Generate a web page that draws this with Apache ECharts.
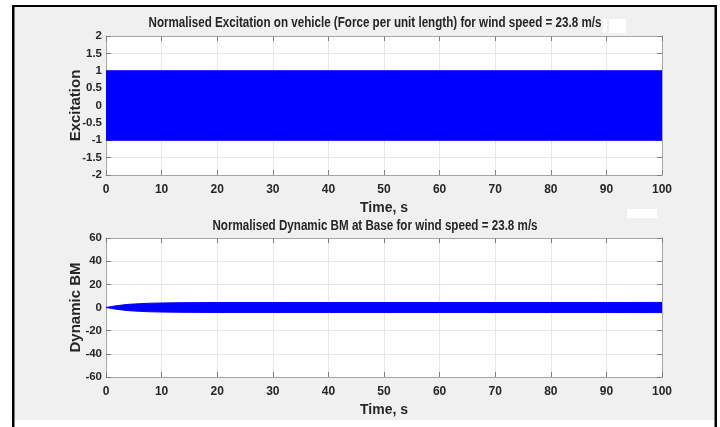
<!DOCTYPE html>
<html>
<head>
<meta charset="utf-8">
<script src="https://cdn.jsdelivr.net/npm/echarts@6/dist/echarts.min.js"></script>
<style>
  html, body { margin: 0; padding: 0; background: #ffffff; }
  #chart { width: 720px; height: 427px; }
</style>
</head>
<body>
<div id="chart"></div>
<script>
// Time axis ticks (s)
const timeTicks = [0, 10, 20, 30, 40, 50, 60, 70, 80, 90, 100];
const excitationTicks = [-2, -1.5, -1, -0.5, 0, 0.5, 1, 1.5, 2];
const bmTicks = [-60, -40, -20, 0, 20, 40, 60];

// Excitation: fast oscillation, drawn as its upper / lower envelope
const excTime  = [0, 100];
const excUpper = [1, 1];
const excLower = [-1, -1];

// Dynamic bending moment: envelope of the oscillating response
const bmTime  = [0, 1, 2, 3, 4, 5, 6, 8, 10, 13, 16, 20, 30, 40, 50, 60, 70, 80, 90, 100];
const bmUpper = [0, 0.9, 1.6, 2.2, 2.7, 3.0, 3.3, 3.7, 3.9, 4.1, 4.2, 4.3, 4.3, 4.3, 4.3, 4.3, 4.3, 4.3, 4.3, 4.4];
const bmLower = [0, -0.9, -1.6, -2.2, -2.7, -3.0, -3.3, -3.7, -3.9, -4.1, -4.2, -4.3, -4.3, -4.3, -4.3, -4.3, -4.3, -4.3, -4.3, -4.4];

const title1 = 'Normalised Excitation on vehicle (Force per unit length) for wind speed = 23.8 m/s';
const title2 = 'Normalised Dynamic BM at Base for wind speed = 23.8 m/s';

const FONT = "'Liberation Sans', Arial, sans-serif";
const BLUE = '#0000ff';
const BOX = '#a6a6a6';
const GRIDLINE = '#e6e6e6';
const TXT = '#262626';

function xAxisFor(gridIndex, showLabels) {
  return {
    type: 'value', gridIndex: gridIndex,
    position: showLabels ? 'bottom' : 'top',
    min: timeTicks[0], max: timeTicks[timeTicks.length - 1], interval: 10,
    name: showLabels ? 'Time, s' : '',
    nameLocation: 'middle', nameGap: 26, nameMoveOverlap: false,
    nameTextStyle: { fontFamily: FONT, fontWeight: 'bold', fontSize: 14, color: TXT },
    axisLine: { show: true, onZero: false, lineStyle: { color: BOX, width: 1 } },
    axisTick: { show: true, inside: true, length: 5, lineStyle: { color: '#7f7f7f' } },
    axisLabel: { show: showLabels, margin: 9, fontFamily: FONT, fontWeight: 'bold', fontSize: 12, color: TXT },
    splitLine: { show: showLabels, lineStyle: { color: GRIDLINE, width: 1 } }
  };
}

function yAxisFor(gridIndex, ticks, name, showLabels) {
  return {
    type: 'value', gridIndex: gridIndex,
    position: showLabels ? 'left' : 'right',
    min: ticks[0], max: ticks[ticks.length - 1], interval: ticks[1] - ticks[0],
    name: showLabels ? name : '',
    nameLocation: 'middle', nameGap: 23, nameMoveOverlap: false,
    nameTextStyle: { fontFamily: FONT, fontWeight: 'bold', fontSize: 15, color: TXT },
    axisLine: { show: true, onZero: false, lineStyle: { color: BOX, width: 1 } },
    axisTick: { show: true, inside: true, length: 5, lineStyle: { color: '#7f7f7f' } },
    axisLabel: { show: showLabels, margin: 4, fontFamily: FONT, fontWeight: 'bold', fontSize: 11.5, color: TXT },
    splitLine: { show: showLabels, lineStyle: { color: GRIDLINE, width: 1 } }
  };
}

// Filled envelope: one polygon running along the upper edge and back along the lower edge
function band(name, xi, yi, ts, upper, lower) {
  return {
    name: name, type: 'custom', xAxisIndex: xi, yAxisIndex: yi,
    data: ts.map((t, i) => [t, upper[i], lower[i]]),
    encode: { x: 0, y: [1, 2] },
    clip: true, silent: true, animation: false,
    renderItem: function (params, api) {
      if (params.dataIndex !== 0) return null;
      const pts = [];
      for (let i = 0; i < ts.length; i++) pts.push(api.coord([ts[i], upper[i]]));
      for (let i = ts.length - 1; i >= 0; i--) pts.push(api.coord([ts[i], lower[i]]));
      return {
        type: 'polygon',
        shape: { points: pts },
        style: { fill: BLUE, stroke: BLUE, lineWidth: 1 }
      };
    }
  };
}

const chart = echarts.init(document.getElementById('chart'), null, { renderer: 'canvas' });

chart.setOption({
  animation: false,
  backgroundColor: '#ffffff',
  graphic: [
    { type: 'rect', z: -10, shape: { x: 14, y: 7, width: 701, height: 413 }, style: { fill: '#f0f0f0' } },
    { type: 'rect', z: -9, shape: { x: 12, y: 5, width: 2.5, height: 422 }, style: { fill: '#000000' } },
    { type: 'rect', z: -9, shape: { x: 12, y: 5, width: 705, height: 2 }, style: { fill: '#000000' } },
    { type: 'rect', z: -9, shape: { x: 714.5, y: 5, width: 2.5, height: 422 }, style: { fill: '#000000' } },
    { type: 'rect', z: 5, shape: { x: 603, y: 19, width: 4, height: 14 }, style: { fill: '#ffffff' } },
    { type: 'rect', z: 5, shape: { x: 609, y: 19, width: 17, height: 14 }, style: { fill: '#ffffff' } },
    { type: 'rect', z: 5, shape: { x: 627, y: 209, width: 30, height: 9 }, style: { fill: '#ffffff' } },
    { type: 'text', z: 10, x: 375, y: 23, scaleX: 0.83,
      style: { text: title1, fill: TXT, font: "bold 14px " + FONT, textAlign: 'center', textVerticalAlign: 'middle' } },
    { type: 'text', z: 10, x: 375, y: 226, scaleX: 0.83,
      style: { text: title2, fill: TXT, font: "bold 14px " + FONT, textAlign: 'center', textVerticalAlign: 'middle' } }
  ],
  grid: [
    { left: 106, right: 58, top: 36, height: 139, backgroundColor: '#ffffff', show: true, borderWidth: 0 },
    { left: 106, right: 58, top: 238, height: 139, backgroundColor: '#ffffff', show: true, borderWidth: 0 }
  ],
  xAxis: [
    xAxisFor(0, true), xAxisFor(0, false),
    xAxisFor(1, true), xAxisFor(1, false)
  ],
  yAxis: [
    yAxisFor(0, excitationTicks, 'Excitation', true), yAxisFor(0, excitationTicks, '', false),
    yAxisFor(1, bmTicks, 'Dynamic BM', true), yAxisFor(1, bmTicks, '', false)
  ],
  series: [
    band('Excitation', 0, 0, excTime, excUpper, excLower),
    band('Dynamic BM', 2, 2, bmTime, bmUpper, bmLower)
  ]
});
</script>
</body>
</html>
